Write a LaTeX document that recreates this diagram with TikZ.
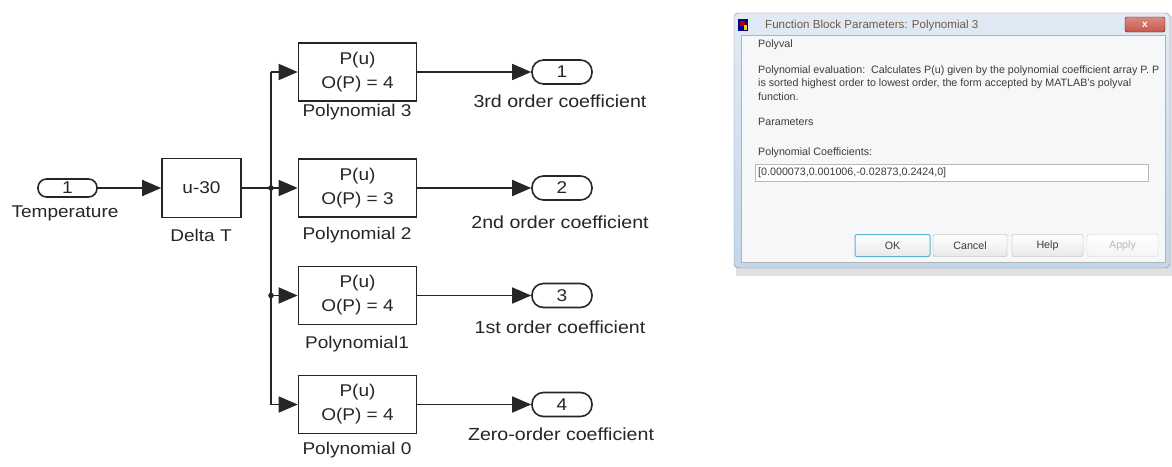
\documentclass[tikz,border=0pt]{standalone}
\usepackage{fontspec}
\setmainfont{Liberation Sans}
\newfontfamily\dfont[FakeStretch=1.12]{Liberation Sans}
\usetikzlibrary{arrows.meta}
\definecolor{ink}{HTML}{262626}
\definecolor{frameblue}{HTML}{C3D6EA}
\definecolor{frameedge}{HTML}{7E8C9C}
\definecolor{panel}{HTML}{F6F7F9}
\definecolor{dlgtext}{HTML}{3C3C3C}
\definecolor{titletext}{HTML}{6E5A44}
\definecolor{closered}{HTML}{C9574B}
\definecolor{okblue}{HTML}{5FB0D8}
\begin{document}
\begin{tikzpicture}[x=1pt,y=-1pt,
  dfnt/.style={font=\dfont\fontsize{17}{24}\selectfont, text=ink},
  blk/.style={draw=ink, line width=1.6pt, minimum width=118pt, minimum height=58pt,
    inner sep=0pt, align=center, dfnt},
  port/.style={draw=ink, line width=1.6pt, rounded corners=11.5pt, minimum width=60pt,
    minimum height=24pt, inner sep=0pt, dfnt},
  lbl/.style={inner sep=0pt, dfnt},
  olbl/.style={lbl, font=\dfont\fontsize{17.5}{24}\selectfont},
  wire/.style={draw=ink, line width=1.6pt},
  sig/.style={wire, -{Triangle[length=19pt,width=16pt]}},
  dtext/.style={inner sep=0pt, anchor=west, text=dlgtext, font=\fontsize{10.7}{12}\selectfont},
  btn/.style={draw=gray!65, rounded corners=2pt, top color=white, bottom color=gray!18,
    minimum height=22pt, inner sep=0pt, text=dlgtext, font=\fontsize{10.7}{12}\selectfont},
]
\useasboundingbox[fill=white] (0,0) rectangle (1172,466);

% ---------------- Simulink diagram ----------------
\node[port, minimum width=59pt, minimum height=18pt, rounded corners=8.5pt] (in1) at (67.5,188) {1};
\node[lbl] (tempL) at (65,213) {Temperature};
\node[blk, minimum width=79pt, minimum height=59pt] (dT) at (201.5,188) {u-30};
\node[lbl] (dTL) at (201,235) {Delta T};

\node[blk] (p3) at (357.5,72)  {P(u)\\O(P) = 4};
\node[blk] (p2) at (357.5,188) {P(u)\\O(P) = 3};
\node[blk] (p1) at (357.5,295.5) {P(u)\\O(P) = 4};
\node[blk] (p0) at (357.5,404.5) {P(u)\\O(P) = 4};
\node[lbl] (p3L) at (357,112) {Polynomial 3};
\node[lbl] (p2L) at (357,235) {Polynomial 2};
\node[lbl] (p1L) at (357,344) {Polynomial1};
\node[lbl] (p0L) at (357,450) {Polynomial 0};

\node[port] (o1) at (562,72)  {1};
\node[port] (o2) at (562,188) {2};
\node[port] (o3) at (562,295.5) {3};
\node[port] (o4) at (562,404.5) {4};
\node[olbl] (o1L) at (560,101) {3rd order coefficient};
\node[olbl] (o2L) at (560,222) {2nd order coefficient};
\node[olbl] (o3L) at (560,327) {1st order coefficient};
\node[olbl] (o4L) at (561,434) {Zero-order coefficient};

\coordinate (j) at (271,188);
\coordinate (j3) at (p3.west -| j);
\coordinate (j1) at (p1.west -| j);
\coordinate (j0) at (p0.west -| j);

\draw[sig] (in1.east) -- (dT.west);
\draw[wire] (dT.east) -- (j);
\draw[wire] (j3) -- (j0);
\draw[sig] (j) -- (p2.west);
\draw[sig] (j3) -- (p3.west);
\draw[sig] (j1) -- (p1.west);
\draw[sig] (j0) -- (p0.west);
\fill[ink] (j) circle (2.8pt);
\fill[ink] (j1) circle (2.8pt);

\draw[sig] (p3.east) -- (o1.west);
\draw[sig] (p2.east) -- (o2.west);
\draw[sig] (p1.east) -- (o3.west);
\draw[sig] (p0.east) -- (o4.west);

% ---------------- Dialog window ----------------
\fill[black!22] (738,18) rectangle (1174,274);
\fill[black!12] (736,16) rectangle (1174,276);
\draw[frameedge, top color=frameblue!50, bottom color=frameblue, rounded corners=4pt]
  (734,13) rectangle (1170,268);
\draw[gray!60, fill=panel] (741,35) rectangle (1165,262);

% title bar
\fill[blue!55!black] (738,19) rectangle (748,31);
\fill[red!70!black] (740,21) rectangle (745,26);
\fill[yellow!70!orange] (744,25) rectangle (747,30);
\node[inner sep=0pt, anchor=west, text=titletext, font=\fontsize{11.6}{13}\selectfont]
  (title) at (765,25) {Function Block Parameters: Polynomial 3};
\node[draw=red!45!black, rounded corners=2pt, top color=closered!70, bottom color=closered,
  minimum width=40pt, minimum height=15pt, inner sep=0pt, text=white,
  font=\bfseries\fontsize{10}{11}\selectfont] (close) at (1145,24.5) {x};

% body text
\node[dtext] (pv) at (758,45) {Polyval};
\node[dtext] (d1) at (758,71) {Polynomial evaluation:\ \ Calculates P(u) given by the polynomial coefficient array P. P};
\node[dtext] (d2) at (758,84) {is sorted highest order to lowest order, the form accepted by MATLAB's polyval};
\node[dtext] (d3) at (758,97) {function.};
\node[dtext] (par) at (758,122) {Parameters};
\node[dtext] (pc) at (758,153) {Polynomial Coefficients:};
\node[draw=gray!55, fill=white, minimum width=393pt, minimum height=17pt, inner sep=0pt]
  (edit) at (951.5,172.5) {};
\node[dtext] (ev) at (758,172.5) {[0.000073,0.001006,-0.02873,0.2424,0]};

% buttons
\node[btn, draw=okblue, line width=1pt, minimum width=75pt] (ok) at (892.5,245.5) {OK};
\node[btn, minimum width=74pt] (cancel) at (970,245.5) {Cancel};
\node[btn, minimum width=71pt] (help) at (1047.5,245.5) {Help};
\node[btn, draw=gray!35, top color=white, bottom color=gray!8, text=gray!55,
  minimum width=71pt] (apply) at (1122.5,245.5) {Apply};
\end{tikzpicture}
\end{document}
